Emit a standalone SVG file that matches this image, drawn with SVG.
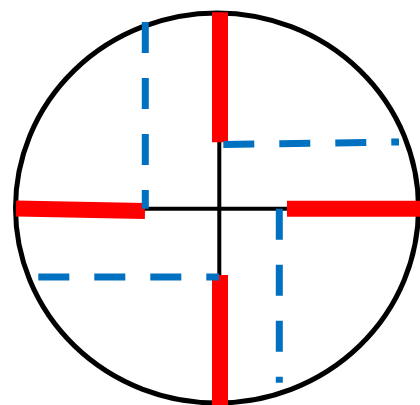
<svg xmlns="http://www.w3.org/2000/svg" width="420" height="405" viewBox="0 0 420 405">
  <style>
    .ring { fill: none; stroke: #000000; stroke-width: 5; }
    .cross { fill: none; stroke: #000000; stroke-width: 4; }
    .red { fill: none; stroke: #FF0000; stroke-width: 16; }
    .blue { fill: none; stroke: #0070C0; stroke-width: 7; stroke-dasharray: 31 25; }
  </style>
  <rect width="420" height="405" fill="#FFFFFF"/>
  <g id="circle">
    <ellipse class="ring" cx="217" cy="208" rx="201.5" ry="195"/>
  </g>
  <g id="cross">
    <line class="cross" x1="145" y1="208.7" x2="287" y2="208.7"/>
    <line class="cross" x1="219.3" y1="142" x2="219.3" y2="275"/>
  </g>
  <g id="red-bars">
    <line class="red" x1="220" y1="12.3" x2="220" y2="142.3"/>
    <line class="red" x1="220" y1="275" x2="220" y2="405"/>
    <line class="red" x1="16" y1="208.5" x2="145" y2="211"/>
    <line class="red" x1="287" y1="208.7" x2="420" y2="208.7"/>
  </g>
  <g id="blue-dashes">
    <line class="blue" x1="145.3" y1="22" x2="145.3" y2="208.7"/>
    <line class="blue" x1="223.3" y1="144.5" x2="399" y2="142"/>
    <line class="blue" x1="38.3" y1="277" x2="219" y2="277"/>
    <line class="blue" x1="279.3" y1="208.7" x2="279.3" y2="382.7"/>
  </g>
</svg>
